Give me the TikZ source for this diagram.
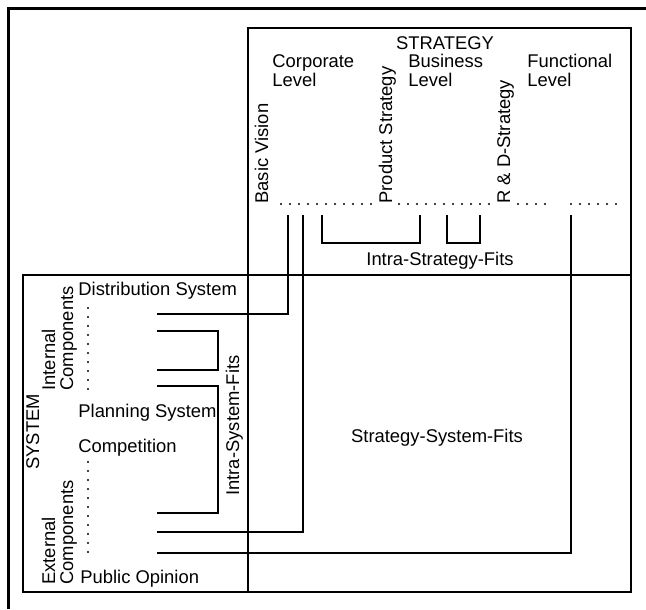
\documentclass[tikz,border=0pt]{standalone}
\usepackage{fontspec}
\setmainfont{Liberation Sans}

\begin{document}
\begin{tikzpicture}[
    x=0.5pt, y=-0.5pt,
    txt/.style={inner sep=0pt, font=\fontsize{9.2}{11}\selectfont, anchor=base west},
    vtxt/.style={txt, rotate=90},
    frame/.style={line width=1pt},
    link/.style={line width=1pt},
    dotrow/.style={line width=1.1pt, line cap=round, dash pattern=on 0pt off 4.5pt},
]
\useasboundingbox (0,0) rectangle (646,609);

% Page frame (top and left edge only)
\draw[line width=1.5pt] (8,609) -- (8,9) -- (646,9);

% Strategy column and system row
\draw[frame] (248,28) rectangle (631,592);
\draw[frame] (23,275) rectangle (631,592);

% Strategy levels
\node[txt, anchor=base] (strat) at (445,50) {STRATEGY};
\node[txt] (corp) at (272,68) {Corporate};
\node[txt] (corplev) at (272,87) {Level};
\node[txt] (busi) at (408,68) {Business};
\node[txt] (busilev) at (408,87) {Level};
\node[txt] (func) at (527,68) {Functional};
\node[txt] (funclev) at (527,87) {Level};

% Strategy items, written upwards
\node[vtxt] (vision) at (268,204) {Basic Vision};
\node[vtxt] (product) at (392,204) {Product Strategy};
\node[vtxt] (rnd) at (510,204) {R \& D-Strategy};

% dotted row of further items
\draw[dotrow] (281,204) -- (372,204);
\draw[dotrow] (399,204) -- (495,204);
\draw[dotrow] (518,204) -- (552,204);
\draw[dotrow] (571,204) -- (618,204);

% System components
\node[vtxt] (sys) at (39,470) {SYSTEM};
\node[vtxt] (intern) at (55,391) {Internal};
\node[vtxt] (interncomp) at (73,391) {Components};
\node[vtxt] (extern) at (55,585) {External};
\node[vtxt] (externcomp) at (73,585) {Components};

\node[txt] (distrib) at (78,295) {Distribution System};
\node[txt] (planning) at (78,417) {Planning System};
\node[txt] (compet) at (78,452) {Competition};
\node[txt] (opinion) at (80,583) {Public Opinion};

\draw[dotrow] (88,308) -- (88,398);
\draw[dotrow] (88,462) -- (88,560);

% Line ends on the strategy side
\coordinate (sv) at (288,215);
\coordinate (sc) at (303,215);
\coordinate (sp1) at (322,215);
\coordinate (sp2) at (420,215);
\coordinate (sb1) at (447,215);
\coordinate (sb2) at (480,215);
\coordinate (sf) at (571,215);

% Line ends on the system side
\coordinate (yd) at (157,314);
\coordinate (yi1) at (157,331);
\coordinate (yi2) at (157,370);
\coordinate (yp) at (157,386);
\coordinate (yc) at (157,513);
\coordinate (ye1) at (157,532);
\coordinate (ye2) at (157,553);

% Intra-strategy fits
\draw[link] (sp1) -- ++(0,28) -| (sp2);
\draw[link] (sb1) -- ++(0,28) -| (sb2);
\node[txt, anchor=base] (isf) at (440,265) {Intra-Strategy-Fits};

% Intra-system fits
\draw[link] (yi1) -- ++(61,0) |- (yi2);
\draw[link] (yp) -- ++(61,0) |- (yc);
\node[vtxt] (iyf) at (239,496) {Intra-System-Fits};

% Strategy-system fits
\draw[link] (yd) -| (sv);
\draw[link] (ye1) -| (sc);
\draw[link] (ye2) -| (sf);
\node[txt, anchor=base] (ssf) at (437,442) {Strategy-System-Fits};
\end{tikzpicture}
\end{document}
